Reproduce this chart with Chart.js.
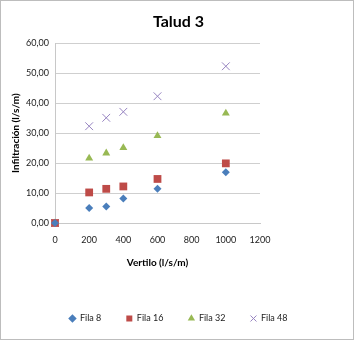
<!DOCTYPE html>
<html>
<head>
<meta charset="utf-8">
<script src="https://cdn.jsdelivr.net/npm/chart.js@4/dist/chart.umd.min.js"></script>
<style>
  body { margin: 0; background: #fff; }
  #box { width: 352px; height: 338px; border: 1px solid #bdbdbd; background: #fff; }
</style>
</head>
<body>
<div id="box"><canvas id="chart1" width="352" height="338"></canvas></div>
<script>
// caudal de vertido (eje x) y caudal infiltrado por fila (eje y)
const vertido = [0, 200, 300, 400, 600, 1000];
const fila8  = [0, 5.0, 5.5, 8.2, 11.4, 16.9];
const fila16 = [0, 10.2, 11.4, 12.2, 14.7, 19.9];
const fila32 = [0, 21.6, 23.3, 25.1, 29.1, 36.6];
const fila48 = [0, 32.3, 35.1, 37.1, 42.3, 52.3];
const series = ['Fila 8', 'Fila 16', 'Fila 32', 'Fila 48'];
const xTicks = [0, 200, 400, 600, 800, 1000, 1200];
const yTicks = [0, 10, 20, 30, 40, 50, 60];

const FONT = 'Lato, "Liberation Sans", sans-serif';

let toPoints = (ys) => vertido.map((x, i) => ({ x: x, y: ys[i] }));

let serie = (label, ys, color, style, r) => ({
  label: label,
  data: toPoints(ys),
  pointStyle: style,
  pointRadius: r,
  pointHoverRadius: r,
  backgroundColor: color,
  borderColor: color,
  borderWidth: style === 'crossRot' ? 1 : 0,
  showLine: false,
  clip: false
});

let chart = new Chart(document.getElementById('chart1'), {
  type: 'scatter',
  data: {
    datasets: [
      serie(series[0], fila8,  '#4a7ebb', 'rectRot', 4),
      serie(series[1], fila16, '#be4b48', 'rect', 5.5),
      serie(series[2], fila32, '#98b954', 'triangle', 4.6),
      serie(series[3], fila48, '#9683c0', 'crossRot', 5.5)
    ]
  },
  options: {
    responsive: false,
    animation: false,
    layout: { padding: { left: 3, right: 0, top: 0, bottom: 6 } },
    plugins: {
      title: {
        display: true,
        text: 'Talud 3',
        color: '#000',
        font: { family: FONT, size: 16, weight: 'bold' },
        padding: { top: 11, bottom: 12 }
      },
      legend: {
        position: 'bottom',
        labels: {
          usePointStyle: true,
          boxWidth: 6,
          boxHeight: 6,
          padding: 25,
          color: '#222',
          font: { family: FONT, size: 9 }
        }
      },
      tooltip: { enabled: false }
    },
    scales: {
      x: {
        type: 'linear',
        min: 0,
        max: 1200,
        afterBuildTicks: (s) => { s.ticks = xTicks.map(v => ({ value: v })); },
        afterFit: (s) => { s.height = 66; },
        grid: { display: false, drawTicks: false },
        border: { display: true, color: '#c8c8c8' },
        ticks: {
          padding: 12,
          color: '#222',
          font: { family: FONT, size: 9 },
          callback: (v) => String(v)
        },
        title: {
          display: true,
          text: 'Vertilo (l/s/m)',
          color: '#000',
          font: { family: FONT, size: 10, weight: 'bold' },
          padding: { top: 0, bottom: 20 }
        }
      },
      y: {
        min: 0,
        max: 60,
        afterBuildTicks: (s) => { s.ticks = yTicks.map(v => ({ value: v })); },
        afterFit: (s) => { s.width = 51; },
        grid: { color: '#cfcfcf', drawTicks: false },
        border: { display: true, color: '#c8c8c8' },
        ticks: {
          padding: 6,
          color: '#222',
          font: { family: FONT, size: 9 },
          callback: (v) => v.toFixed(2).replace('.', ',')
        },
        title: {
          display: true,
          text: 'Infiltración (l/s/m)',
          color: '#000',
          font: { family: FONT, size: 10, weight: 'bold' },
          padding: { top: 6, bottom: 0 }
        }
      },
      // eje vacío a la derecha: deja el hueco blanco junto al área de trazado
      margen: {
        type: 'linear',
        position: 'right',
        min: 0,
        max: 1,
        afterFit: (s) => { s.width = 93; },
        grid: { display: false },
        border: { display: false },
        ticks: { display: false }
      }
    }
  }
});
</script>
</body>
</html>
